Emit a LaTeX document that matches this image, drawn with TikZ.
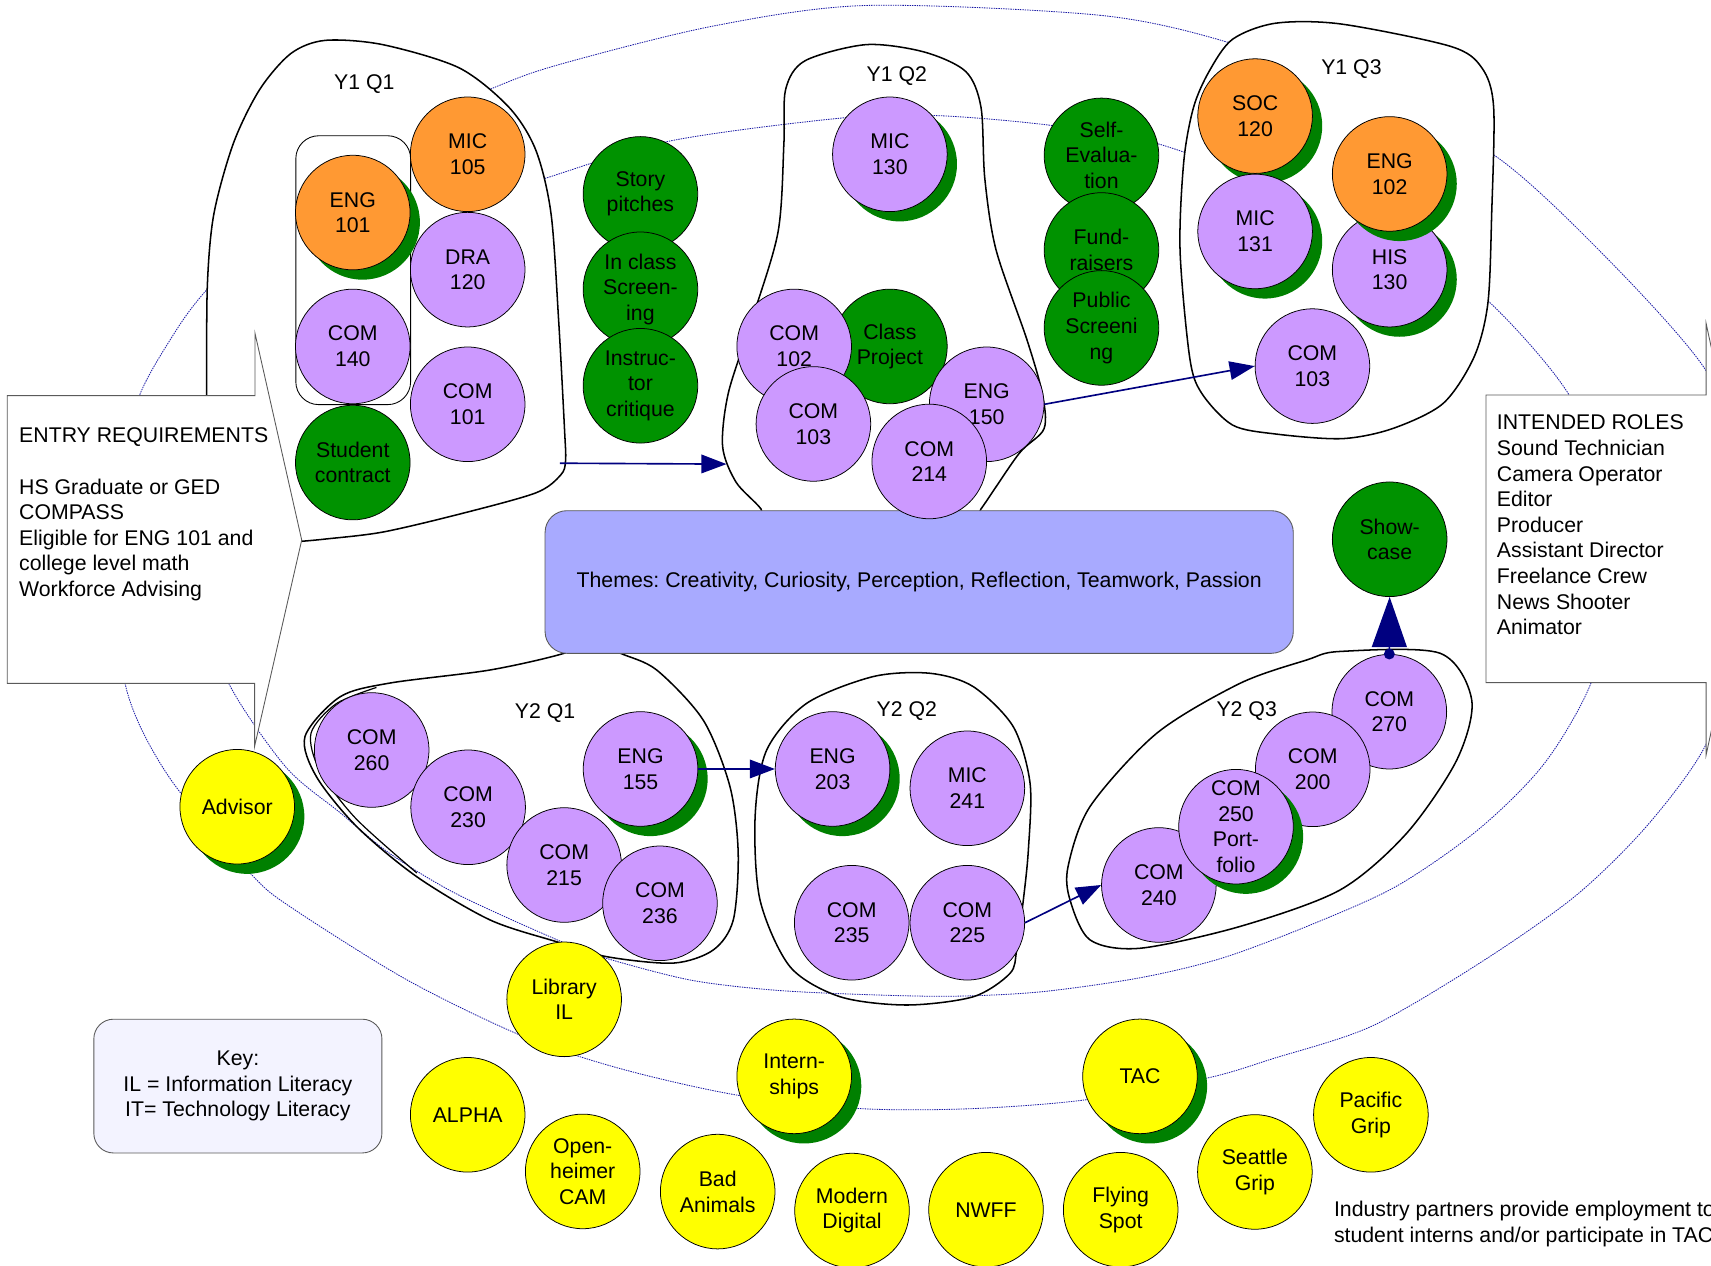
\documentclass[tikz,border=0pt]{standalone}
\usepackage{fontspec}
\setmainfont{Liberation Sans}
\usetikzlibrary{arrows.meta,shadows}
\definecolor{orng}{RGB}{255,153,51}
\definecolor{purp}{RGB}{204,153,255}
\definecolor{grn}{RGB}{0,146,0}
\definecolor{shgrn}{RGB}{0,128,0}
\definecolor{yel}{RGB}{255,255,0}
\definecolor{themec}{RGB}{168,170,255}
\definecolor{keyc}{RGB}{243,243,255}
\definecolor{navyc}{RGB}{0,0,128}
\definecolor{dotc}{RGB}{25,25,165}
\definecolor{calloutc}{RGB}{90,90,90}
\newcommand\fsz{\fontsize{19.5}{23.5}\selectfont}
\frenchspacing
\begin{document}
\frenchspacing
\begin{tikzpicture}[x=1pt,y=-1pt,
  crs/.style={circle,draw=black,line width=0.7pt,minimum size=105pt,inner sep=0pt,align=center,font=\fsz},
  ocrs/.style={crs,fill=orng},
  pcrs/.style={crs,fill=purp},
  gcrs/.style={crs,fill=grn},
  ycrs/.style={crs,fill=yel},
  shd/.style={drop shadow={shadow xshift=9pt,shadow yshift=-9pt,fill=shgrn,opacity=1}},
  blob/.style={draw=black,line width=1.4pt},
  ell/.style={draw=dotc,line width=0.75pt,dash pattern=on 1.3pt off 0.9pt},
  arr/.style={draw=navyc,line width=1.5pt,-{Triangle[length=23pt,width=17pt]}},
  lbl/.style={font=\fsz,inner sep=0pt,anchor=base},
  callout/.style={draw=calloutc,line width=0.8pt,fill=white},
  txtblock/.style={font=\fsz,inner sep=0pt,align=left,anchor=north west}]
\useasboundingbox (0,0) rectangle (1568,1160);
\fill[white] (0,0) rectangle (1568,1160);
\begin{scope}
\clip (0,0) rectangle (1568,1160);

% dotted ellipses
\draw[ell] plot[smooth cycle,tension=0.5] coordinates {(794,5) (1008,14) (1126,39) (1250,85) (1369,142) (1472,236) (1563,339) (1590,420) (1596,510) (1588,600) (1563,683) (1510,756) (1445,820) (1360,880) (1258,940) (1167,970) (1106,988) (994,1008) (890,1016) (790,1016) (678,1004) (571,980) (480,950) (373,898) (266,831) (231,802) (165,726) (133,675) (115,628) (107,560) (106,500) (112,430) (128,362) (160,305) (189,266) (260,190) (340,130) (451,81) (513,59) (653,24)};
\draw[ell] plot[smooth cycle,tension=0.5] coordinates {(860,106) (964,115) (1062,132) (1200,183) (1290,225) (1365,277) (1438,362) (1470,450) (1478,540) (1458,626) (1415,700) (1355,760) (1280,812) (1200,848) (1120,878) (1045,896) (953,909) (870,913) (780,911) (705,907) (632,898) (555,878) (510,861) (418,819) (357,782) (312,745) (262,703) (210,627) (190,560) (185,480) (200,400) (245,310) (330,235) (420,190) (501,163) (615,129) (773,108)};

% Y1 Q1 blob
\draw[blob,fill=white] plot[smooth,tension=0.5] coordinates {(189.4,362) (190,262) (196,196) (214,131) (238,82) (266.6,49) (298,37) (350.7,40.9) (420.8,62.2) (466.4,98.3) (491,137.5) (505,196) (512,294.5) (517.3,392.8) (518.3,422.2) (513.8,435.3) (491,451.7) (420.8,471.2) (350.7,487.6) (298,494) (276.9,496)} -- (230,500) -- (189.4,470) -- cycle;
% Y1 Q2 blob
\draw[blob] plot[smooth cycle,tension=0.5] coordinates {(737.7,55.7) (793.6,40.9) (846.4,47.5) (885,65.5) (899,98.3) (902.5,163.7) (912.8,229) (941,311) (955,360) (956.8,392.8) (933.8,415.7) (899,466.4) (880,490) (710,490) (697.4,466.4) (674.5,441.8) (662.2,409) (667.5,360) (688.6,294.5) (713,212.7) (718.4,131) (720,81.8)};
% Y1 Q3 blob
\draw[blob,fill=white] plot[smooth cycle,tension=0.5] coordinates {(1129.5,36) (1168.8,21.3) (1229,22) (1329.4,42.5) (1358,62.2) (1368.8,98.3) (1367,196) (1363.5,278) (1350.8,327.3) (1322.4,369.8) (1276,392.8) (1229.5,402) (1168.8,397.7) (1129.5,389.5) (1101,360) (1090.2,327.3) (1081.4,229) (1084.9,147.3) (1093.8,98.3) (1108,65.5)};
% Y2 Q1 blob
\draw[blob] plot[smooth cycle,tension=0.5] coordinates {(568,598.4) (601.8,614) (644.5,660) (669,721) (676.5,782) (672,843) (653.6,870.6) (617,882.6) (556,876.7) (510,863) (449,843) (381.9,803.4) (327,757.6) (290,711.8) (279.5,675) (311.6,638.6) (357,626) (449,614) (517.8,598.4) (540,585)};
\draw[blob,line width=1.1pt] plot[smooth,tension=0.5] coordinates {(345,630) (308,645) (285,672) (293,706) (326,750) (382,800)};
% Y2 Q2 blob
\draw[blob] plot[smooth cycle,tension=0.5] coordinates {(852.3,617) (892,629.3) (928.6,666) (944,718) (942.4,779) (937.8,824.8) (931.7,870.6) (925.6,892) (892,913.4) (831,921) (769.8,913.4) (724,885.9) (696.5,824.8) (692,748.4) (702.6,687.3) (739.3,644.5) (800.3,620)};
% Y2 Q3 blob
\draw[blob] plot[smooth cycle,tension=0.5] coordinates {(1228,597) (1319.6,598.6) (1348.7,641.5) (1335,696.5) (1289,763.7) (1228,815.6) (1136.4,849) (1044.7,869) (999,861.4) (980.6,824.8) (978.8,794) (999,739) (1060,672) (1136.4,626.2) (1197.5,604.8)};

% callouts
\draw[callout] (6.7,362.6) -- (233.7,362.6) -- (233.7,305.5) -- (276.5,494.9) -- (233.3,684) -- (233.3,626.2) -- (6.7,626.2) -- cycle;
\draw[callout] (1361.8,362) -- (1563.5,362) -- (1563.5,296.3) -- (1606,494) -- (1563.5,692) -- (1563.5,625.6) -- (1361.8,625.6) -- cycle;
\node[txtblock] (entry) at (17.4,391.9) {ENTRY REQUIREMENTS\\[23.5pt]HS Graduate or GED\\COMPASS\\Eligible for ENG 101 and\\college level math\\Workforce Advising};
\node[txtblock] (roles) at (1371.6,380) {INTENDED ROLES\\Sound Technician\\Camera Operator\\Editor\\Producer\\Assistant Director\\Freelance Crew\\News Shooter\\Animator};

% inner rounded rect in Y1 Q1
\draw[black,line width=0.8pt,rounded corners=21pt] (271.1,124.4) rectangle (376.3,370.8);

% themes box
\node[draw=calloutc,line width=0.8pt,fill=themec,rounded corners=20pt,minimum width=685.7pt,minimum height=130.7pt,inner sep=0pt,font=\fsz] (themes) at (842.35,533.35) {Themes: Creativity, Curiosity, Perception, Reflection, Teamwork, Passion};

% labels
\node[lbl] (ly1q1) at (333.9,81.8) {Y1 Q1};
\node[lbl] (ly1q2) at (821.8,74.6) {Y1 Q2};
\node[lbl] (ly1q3) at (1238.5,68.7) {Y1 Q3};
\node[lbl] (ly2q1) at (499.5,658.3) {Y2 Q1};
\node[lbl] (ly2q2) at (831,656.2) {Y2 Q2};
\node[lbl] (ly2q3) at (1142.5,656.8) {Y2 Q3};

% Y1 Q1 courses
\node[ocrs,shd] (eng101) at (323.3,194.8) {ENG\\101};
\node[ocrs] (mic105) at (428.6,141.4) {MIC\\105};
\node[pcrs] (dra120) at (428.6,247.1) {DRA\\120};
\node[pcrs] (com140) at (323.3,317.5) {COM\\140};
\node[pcrs] (com101) at (428.6,370.5) {COM\\101};
\node[gcrs] (contract) at (323.3,423.9) {Student\\contract};

% activities
\node[gcrs] (story) at (586.9,177.7) {Story\\pitches};
\node[gcrs] (inclass) at (586.9,265.1) {In class\\Screen-\\ing};
\node[gcrs] (instr) at (586.9,353.5) {Instruc-\\tor\\critique};
\node[gcrs] (selfev) at (1009.4,142.4) {Self-\\Evalua-\\tion};
\node[gcrs] (fund) at (1009.4,229.1) {Fund-\\raisers};
\node[gcrs] (public) at (1009.4,300.5) {Public\\Screeni\\ng};

% Y1 Q2 courses
\node[pcrs,shd] (mic130) at (815.5,141.4) {MIC\\130};
\node[gcrs] (classproj) at (815.5,317.5) {Class\\Project};
\node[pcrs] (com102) at (727.8,317.5) {COM\\102};
\node[pcrs] (com103a) at (745.4,388.5) {COM\\103};
\node[pcrs] (eng150) at (904.2,370.5) {ENG\\150};
\node[pcrs] (com214) at (851.6,422.9) {COM\\214};

% Y1 Q3 courses
\node[ocrs,shd] (soc120) at (1150.2,106.4) {SOC\\120};
\node[pcrs,shd] (mic131) at (1150.2,212.1) {MIC\\131};
\node[pcrs,shd] (his130) at (1273.5,247.1) {HIS\\130};
\node[ocrs,shd] (eng102) at (1273.5,159.4) {ENG\\102};
\node[pcrs] (com103b) at (1202.7,335.5) {COM\\103};

\node[gcrs] (show) at (1273.5,494.2) {Show-\\case};

% Y2 Q1 courses
\node[pcrs] (com260) at (340.6,687.3) {COM\\260};
\node[pcrs] (com230) at (429,739.8) {COM\\230};
\node[pcrs] (com215) at (517,792.7) {COM\\215};
\node[pcrs] (com236) at (604.8,827.8) {COM\\236};
\node[pcrs,shd] (eng155) at (587,704.7) {ENG\\155};

% Y2 Q2 courses
\node[pcrs,shd] (eng203) at (763,704.7) {ENG\\203};
\node[pcrs] (mic241) at (886.5,722.4) {MIC\\241};
\node[pcrs] (com235) at (780.5,845.6) {COM\\235};
\node[pcrs] (com225) at (886.5,845.6) {COM\\225};

% Y2 Q3 courses
\node[pcrs] (com270) at (1273.2,652.2) {COM\\270};
\node[pcrs] (com200) at (1203,705) {COM\\200};
\node[pcrs] (com240) at (1062,811) {COM\\240};
\node[pcrs,shd] (com250) at (1132.7,757.6) {COM\\250\\Port-\\folio};

% partners / support
\node[ycrs,shd] (advisor) at (217.4,739.3) {Advisor};
\node[ycrs] (library) at (517,915.8) {Library\\IL};
\node[ycrs,shd] (intern) at (727.8,986.4) {Intern-\\ships};
\node[ycrs,shd] (tac) at (1044.7,986.4) {TAC};
\node[ycrs] (alpha) at (428.6,1021.6) {ALPHA};
\node[ycrs] (openh) at (534,1073.5) {Open-\\heimer\\CAM};
\node[ycrs] (badan) at (657.7,1092) {Bad\\Animals};
\node[ycrs] (modern) at (780.8,1109.4) {Modern\\Digital};
\node[ycrs] (nwff) at (903.6,1108.6) {NWFF};
\node[ycrs] (flying) at (1027,1108.6) {Flying\\Spot};
\node[ycrs] (seattle) at (1150,1074) {Seattle\\Grip};
\node[ycrs] (pacific) at (1256.3,1021.6) {Pacific\\Grip};

% arrows
\coordinate (q11out) at (513,424.5);
\coordinate (q12in) at (665.8,425.3);
\draw[arr] (q11out) -- (q12in);
\draw[arr] (eng150.east) -- (com103b.west);
\draw[arr] (eng155.east) -- (eng203.west);
\draw[arr] (com225.east) -- (com240.west);
\draw[navyc,line width=1.5pt,-{Triangle[length=46pt,width=32pt]}] (com270.north) -- (show.south);
\fill[navyc] (com270.north) circle (5);

% key box
\node[draw=calloutc,line width=0.8pt,fill=keyc,rounded corners=18pt,minimum width=264pt,minimum height=122.6pt,inner sep=0pt,align=center,font=\fsz] (key) at (218,995.3) {Key:\\IL = Information Literacy\\IT= Technology Literacy};

% industry note
\node[txtblock] (industry) at (1222.3,1100.7) {Industry partners provide employment to\\student interns and/or participate in TAC};
\end{scope}
\end{tikzpicture}
\end{document}
